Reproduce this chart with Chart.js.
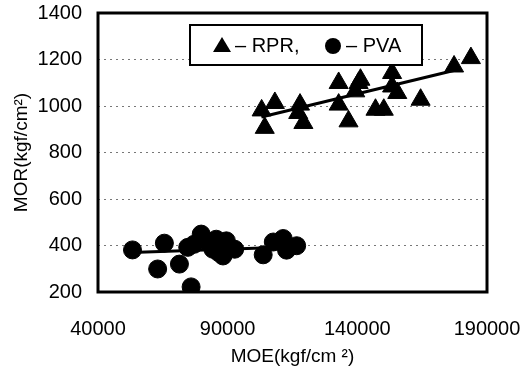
<!DOCTYPE html>
<html>
<head>
<meta charset="utf-8">
<script src="https://cdn.jsdelivr.net/npm/chart.js@4"></script>
<style>
  html, body { margin: 0; padding: 0; background: #fff; }
  #wrap { width: 528px; height: 385px; position: relative; }
</style>
</head>
<body>
<div id="wrap"><canvas id="chart" width="528" height="385"></canvas></div>
<script>
// MOE (kgf/cm2) vs MOR (kgf/cm2)
const rprMOE = [103100, 104300, 108200, 117200, 117900, 119200, 132800, 132800, 136600, 139200, 140500, 141200, 147000, 150200, 153400, 153400, 155400, 164400, 177300, 183800];
const rprMOR = [981, 906, 1013, 970, 1006, 927, 1099, 1006, 934, 1063, 1099, 1113, 984, 984, 1142, 1084, 1056, 1027, 1170, 1206];

const pvaMOE = [53300, 63000, 65600, 71400, 74600, 75900, 77000, 79800, 82500, 84300, 85600, 86500, 88200, 89500, 92700, 103700, 107600, 111400, 112700, 116600];
const pvaMOR = [381, 299, 410, 320, 392, 222, 405, 449, 415, 384, 427, 370, 355, 420, 384, 360, 415, 430, 380, 399];

// fitted lines (end points)
const rprFitMOE = [103000, 180000];
const rprFitMOR = [953, 1160];
const pvaFitMOE = [53000, 117000];
const pvaFitMOR = [370, 395];

const xTicks = [40000, 90000, 140000, 190000];
const yTicks = [200, 400, 600, 800, 1000, 1200, 1400];

const legendItems = ['\u2013 RPR,', '\u2013 PVA'];

function pts(xs, ys) {
  return xs.map((x, i) => ({ x: x, y: ys[i] }));
}

const FONT = "'Liberation Sans', Arial, sans-serif";

function noPad(scale) {
  scale.paddingTop = 0;
  scale.paddingBottom = 0;
  scale.paddingLeft = 0;
  scale.paddingRight = 0;
}

// frame + legend box
const framePlugin = {
  id: 'frame',
  afterDatasetsDraw(chart) {
    const ctx = chart.ctx;
    const a = chart.chartArea;
    ctx.save();
    ctx.strokeStyle = '#000';
    ctx.lineWidth = 3;
    ctx.strokeRect(a.left, a.top, a.right - a.left, a.bottom - a.top);

    // legend
    const bx = 190, by = 25, bw = 232, bh = 40;
    ctx.fillStyle = '#fff';
    ctx.fillRect(bx, by, bw, bh);
    ctx.lineWidth = 2;
    ctx.strokeRect(bx, by, bw, bh);
    ctx.fillStyle = '#000';
    const cy = by + bh / 2;
    // triangle
    ctx.beginPath();
    ctx.moveTo(222, cy - 8);
    ctx.lineTo(231, cy + 7);
    ctx.lineTo(213, cy + 7);
    ctx.closePath();
    ctx.fill();
    // circle
    ctx.beginPath();
    ctx.arc(333, cy + 1, 8, 0, Math.PI * 2);
    ctx.fill();
    ctx.font = '20px ' + FONT;
    ctx.textBaseline = 'middle';
    ctx.fillText(legendItems[0], 235, cy + 1);
    ctx.fillText(legendItems[1], 346, cy + 1);
    ctx.restore();
  }
};

new Chart(document.getElementById('chart'), {
  type: 'scatter',
  data: {
    datasets: [
      {
        label: 'RPR',
        data: pts(rprMOE, rprMOR),
        pointStyle: 'triangle',
        pointRadius: 11,
        pointHoverRadius: 11,
        backgroundColor: '#000',
        borderColor: '#000',
        borderWidth: 1
      },
      {
        label: 'PVA',
        data: pts(pvaMOE, pvaMOR),
        pointStyle: 'circle',
        pointRadius: 9,
        pointHoverRadius: 9,
        backgroundColor: '#000',
        borderColor: '#000',
        borderWidth: 1
      },
      {
        label: 'RPR fit',
        data: pts(rprFitMOE, rprFitMOR),
        showLine: true,
        pointRadius: 0,
        borderColor: '#000',
        borderWidth: 3
      },
      {
        label: 'PVA fit',
        data: pts(pvaFitMOE, pvaFitMOR),
        showLine: true,
        pointRadius: 0,
        borderColor: '#000',
        borderWidth: 3
      }
    ]
  },
  options: {
    responsive: false,
    animation: false,
    layout: { padding: { top: 13, right: 41, left: 0, bottom: 0 } },
    plugins: {
      legend: { display: false },
      tooltip: { enabled: false }
    },
    scales: {
      x: {
        type: 'linear',
        min: 40000,
        max: 190000,
        afterBuildTicks(scale) { scale.ticks = xTicks.map(v => ({ value: v })); },
        afterFit(scale) { scale.height = 93; noPad(scale); },
        grid: { display: false, drawTicks: false },
        border: { display: false },
        ticks: { color: '#000', font: { family: FONT, size: 20 }, padding: 25, maxRotation: 0, callback: v => String(v) },
        title: {
          display: true,
          text: 'MOE(kgf/cm \u00b2)',
          color: '#000',
          font: { family: FONT, size: 19 },
          padding: { top: 0, bottom: 17 }
        }
      },
      y: {
        type: 'linear',
        min: 200,
        max: 1400,
        afterBuildTicks(scale) { scale.ticks = yTicks.map(v => ({ value: v })); },
        afterFit(scale) { scale.width = 98; noPad(scale); },
        grid: {
          drawTicks: false,
          color: (c) => (c.tick && (c.tick.value === 200 || c.tick.value === 1400)) ? 'rgba(0,0,0,0)' : '#777',
          lineWidth: 1
        },
        border: { display: false, dash: [2, 4] },
        ticks: { color: '#000', font: { family: FONT, size: 20 }, padding: 16, callback: v => String(v) },
        title: {
          display: true,
          text: 'MOR(kgf/cm\u00b2)',
          color: '#000',
          font: { family: FONT, size: 19 },
          padding: { top: 10, bottom: 0 }
        }
      }
    }
  },
  plugins: [framePlugin]
});
</script>
</body>
</html>
